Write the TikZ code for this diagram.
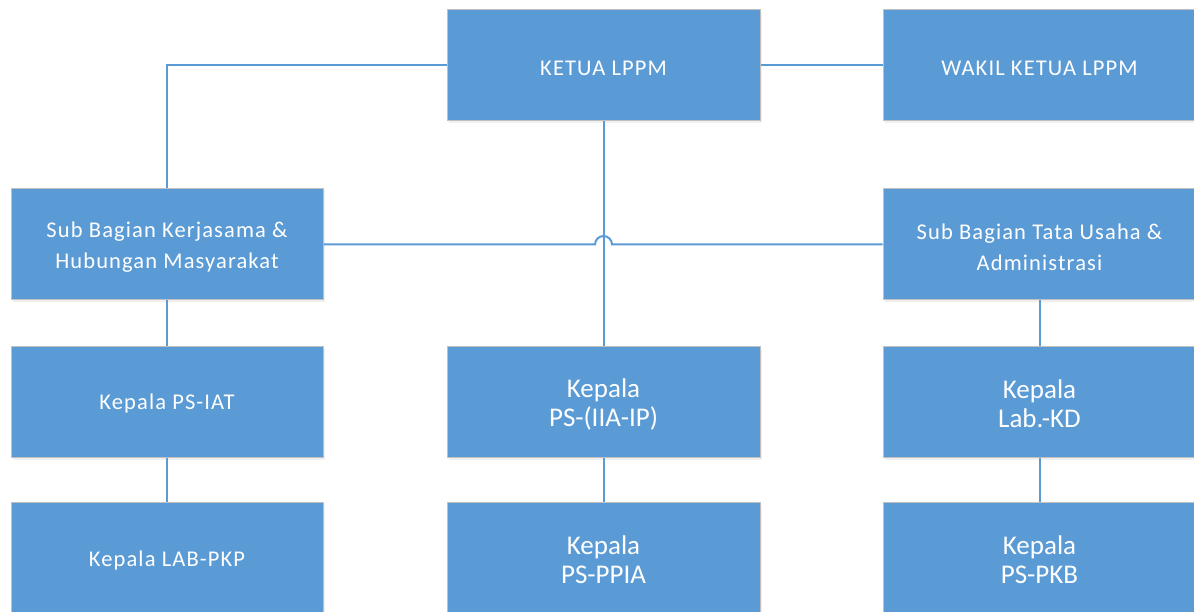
\documentclass[tikz,border=0pt]{standalone}
\usepackage{fontspec}
\setmainfont{Carlito}
\newfontfamily\spacedfont[LetterSpace=5]{Carlito}
\usetikzlibrary{shadows}
\definecolor{boxblue}{HTML}{5B9BD5}
\definecolor{boxedge}{HTML}{C0C0C0}
\tikzset{
  orgbox/.style={rectangle, minimum width=313pt, minimum height=111pt, inner sep=0pt,
    fill=boxblue, draw=boxedge, line width=1pt,
    drop shadow={opacity=0.12, shadow xshift=1.5pt, shadow yshift=-2.5pt}},
  boxtext/.style={text=white, align=center, inner sep=0pt, yshift=-2.5pt},
  smalltext/.style={boxtext, font=\spacedfont\fontsize{22.5}{31}\selectfont},
  bigtext/.style={boxtext, font=\fontsize{27}{29}\selectfont},
  link/.style={draw=boxblue, line width=2pt}
}
\begin{document}
\begin{tikzpicture}[x=1pt,y=-1pt]
\useasboundingbox (0,0) rectangle (1194,612);
\node[orgbox, label={[smalltext]center:KETUA LPPM}] (ketua) at (603.5,65.5) {};
\node[orgbox, label={[smalltext]center:WAKIL KETUA LPPM}] (wakil) at (1039.5,65.5) {};
\node[orgbox, minimum width=312pt, label={[smalltext]center:Sub Bagian Kerjasama \&\\Hubungan Masyarakat}] (sub1) at (167,244.5) {};
\node[orgbox, label={[smalltext]center:Sub Bagian Tata Usaha \&\\Administrasi}] (sub2) at (1039.5,244.5) {};
\node[orgbox, minimum width=312pt, label={[smalltext]center:Kepala PS-IAT}] (iat) at (167,401.5) {};
\node[orgbox, label={[bigtext]center:Kepala\\PS-(IIA-IP)}] (iia) at (603.5,401.5) {};
\node[orgbox, label={[bigtext]center:Kepala\\Lab.-KD}] (kd) at (1039.5,401.5) {};
\node[orgbox, minimum width=312pt, label={[smalltext]center:Kepala LAB-PKP}] (pkp) at (167,557.5) {};
\node[orgbox, label={[bigtext]center:Kepala\\PS-PPIA}] (ppia) at (603.5,557.5) {};
\node[orgbox, label={[bigtext]center:Kepala\\PS-PKB}] (pkb) at (1039.5,557.5) {};
\coordinate (hopL) at ([xshift=-8.5pt]sub1.east -| ketua.south);
\draw[link] (ketua.west) -| (sub1.north);
\draw[link] (ketua.east) -- (wakil.west);
\draw[link] (ketua.south) -- (iia.north);
\draw[link] (sub1.east) -- (hopL) arc[start angle=180, end angle=360, radius=8.5] -- (sub2.west);
\draw[link] (sub1.south) -- (iat.north);
\draw[link] (iat.south) -- (pkp.north);
\draw[link] (sub2.south) -- (kd.north);
\draw[link] (kd.south) -- (pkb.north);
\draw[link] (iia.south) -- (ppia.north);
\end{tikzpicture}
\end{document}
